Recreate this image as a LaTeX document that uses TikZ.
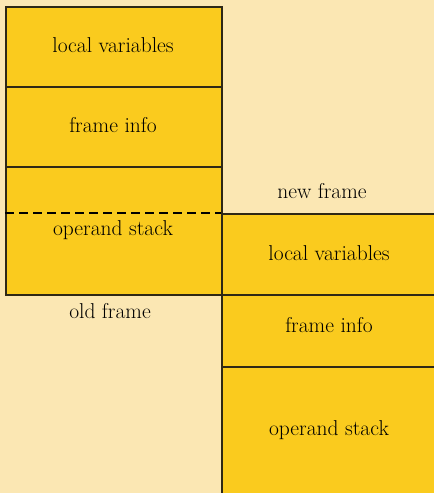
\documentclass[tikz,border=0pt]{standalone}
\definecolor{paper}{HTML}{FBE7B3}
\definecolor{slot}{HTML}{FACB1E}
\definecolor{edge}{HTML}{2E2815}
\begin{document}
\begin{tikzpicture}[x=1pt,y=-1pt,
  every node/.style={font=\fontsize{21.5}{25}\selectfont, text=black},
  slotbox/.style={draw=edge, line width=1.5pt, fill=slot, inner sep=0pt,
    minimum width=216pt, anchor=north west},
  caption/.style={inner sep=0pt}]
  % page background and frame of the picture
  \clip (0,0) rectangle (434,493);
  \fill[paper] (0,0) rectangle (434,493);

  % old frame (left stack)
  \node[slotbox, minimum height=80pt] (lv1) at (5,6) {};
  \node[slotbox, minimum height=80pt] (fi1) at (5,86) {};
  \node[slotbox, minimum height=128pt] (os1) at (5,166) {};

  % new frame (right stack), running off the page edge
  \node[slotbox, minimum height=81pt] (lv2) at (221,213) {};
  \node[slotbox, minimum height=72pt] (fi2) at (221,294) {};
  \node[slotbox, minimum height=140pt] (os2) at (221,366) {};

  % overlap between the two frames
  \coordinate (dl) at (5,213);
  \draw[line width=2pt, dash pattern=on 9pt off 5pt] (dl) -- (lv2.north west);

  % labels
  \node[caption] (t1) at (113,45) {local variables};
  \node[caption] (t2) at (113,125) {frame info};
  \node[caption] (t3) at (113,230) {operand stack};
  \node[caption] (t4) at (110,311) {old frame};
  \node[caption] (t5) at (322,191) {new frame};
  \node[caption] (t6) at (329,253) {local variables};
  \node[caption] (t7) at (329,325) {frame info};
  \node[caption] (t8) at (329,430) {operand stack};
\end{tikzpicture}
\end{document}
